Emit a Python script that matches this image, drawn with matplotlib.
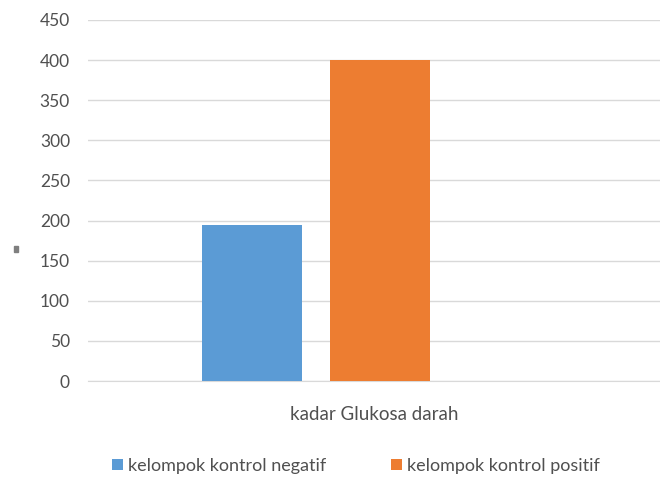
import matplotlib
matplotlib.use("Agg")
import matplotlib.pyplot as plt
from matplotlib.patches import Rectangle

# data
category = "kadar Glukosa darah"
series = ["kelompok kontrol negatif", "kelompok kontrol positif"]
values = [195, 400]
colors = ["#5b9bd5", "#ed7d31"]
yticks = [0, 50, 100, 150, 200, 250, 300, 350, 400, 450]

plt.rcParams["font.family"] = ["Lato", "DejaVu Sans"]

fig = plt.figure(figsize=(6.6, 4.86), dpi=100, facecolor="white")
ax = fig.add_axes([88 / 660, 1 - 381 / 486, 572 / 660, 361 / 486])

width = 0.175
offsets = [-0.213, 0.011]
for off, v, c, name in zip(offsets, values, colors, series):
    ax.bar(off, v, width=width, color=c, label=name, zorder=3)

ax.set_xlim(-0.5, 0.5)
ax.set_ylim(0, 450)
ax.set_yticks(yticks)
ax.set_xticks([0])
ax.set_xticklabels([category], fontsize=13.5)
ax.yaxis.grid(True, color="#d9d9d9", linewidth=1, zorder=0)
for s in ["top", "right", "left"]:
    ax.spines[s].set_visible(False)
ax.spines["bottom"].set_color("#d9d9d9")
ax.tick_params(axis="both", length=0, colors="#505050")
ax.tick_params(axis="y", pad=13, labelsize=12.5)
ax.tick_params(axis="x", pad=18)

fig.legend(loc="center", bbox_to_anchor=(356 / 660, 1 - 466 / 486), ncol=2,
           frameon=False, fontsize=13, handlelength=0.6, handleheight=0.6,
           handletextpad=0.3, columnspacing=3.6, labelcolor="#505050")

# stray marker on the left
fig.patches.append(Rectangle((14 / 660, 1 - 252 / 486), 4 / 660, 6 / 486,
                             transform=fig.transFigure, color="#7f7f7f"))

fig.savefig("out.png", dpi=100, facecolor="white")
